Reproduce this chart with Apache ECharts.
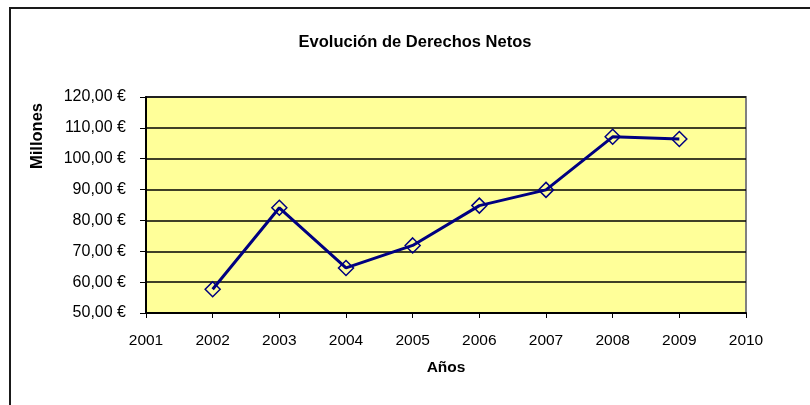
<!DOCTYPE html>
<html>
<head>
<meta charset="utf-8">
<script src="https://cdn.jsdelivr.net/npm/echarts@6/dist/echarts.min.js"></script>
<style>
html,body{margin:0;padding:0;background:#fff;}
#chart{width:810px;height:405px;}
</style>
</head>
<body>
<div id="chart"></div>
<script>
var years = [2002, 2003, 2004, 2005, 2006, 2007, 2008, 2009];
var derechosNetos = [57.7, 84.1, 64.6, 71.9, 84.8, 89.9, 107.1, 106.4];
var yMin = 50, yMax = 120, yStep = 10;
var xMin = 2001, xMax = 2010, xStep = 1;
var titleText = 'Evolución de Derechos Netos';
var xName = 'Años';
var yName = 'Millones';

var chart = echarts.init(document.getElementById('chart'), null, {renderer: 'canvas'});
var font = 'Arial, "Liberation Sans", sans-serif';
chart.setOption({
  backgroundColor: '#ffffff',
  animation: false,
  title: {
    text: titleText,
    left: 410, top: 29, textAlign: 'center',
    textStyle: {fontFamily: font, fontSize: 16.5, fontWeight: 'bold', color: '#000'}
  },
  graphic: [
    {type: 'polyline', shape: {points: [[10, 405], [10, 8], [810, 8]]},
     style: {stroke: '#1a1a1a', lineWidth: 2, fill: null}, silent: true},
    {type: 'text', x: 37, y: 136, rotation: Math.PI / 2,
     style: {text: yName, font: 'bold 16.5px Arial, "Liberation Sans", sans-serif', fill: '#000',
             align: 'center', verticalAlign: 'middle'},
     silent: true},
    {type: 'text', x: 446, y: 368,
     style: {text: xName, font: 'bold 15.5px Arial, "Liberation Sans", sans-serif', fill: '#000',
             align: 'center', verticalAlign: 'middle'},
     silent: true}
  ],
  grid: {
    left: 146, right: 64, top: 97, bottom: 92,
    show: true, backgroundColor: '#FFFF99', borderColor: '#808080', borderWidth: 2
  },
  xAxis: {
    type: 'value', min: xMin, max: xMax, interval: xStep,
    axisLine: {show: true, onZero: false, lineStyle: {color: '#000', width: 2}},
    axisTick: {show: true, length: 5, lineStyle: {color: '#000', width: 1}},
    splitLine: {show: false},
    axisLabel: {
      margin: 20, color: '#000', fontFamily: font, fontSize: 15.5,
      formatter: function (v) { return String(v); }
    }
  },
  yAxis: {
    type: 'value', min: yMin, max: yMax, interval: yStep,
    axisLine: {show: true, lineStyle: {color: '#000', width: 2}},
    axisTick: {show: true, length: 6, lineStyle: {color: '#000', width: 1}},
    splitLine: {show: true, lineStyle: {color: '#000', width: 1.5}},
    axisLabel: {
      margin: 20, color: '#000', fontFamily: font, fontSize: 16,
      formatter: function (v) { return v.toFixed(2).replace('.', ',') + ' €'; }
    }
  },
  series: [{
    type: 'line',
    data: years.map(function (y, i) { return [y, derechosNetos[i]]; }),
    symbol: 'diamond', symbolSize: 15,
    showAllSymbol: true,
    lineStyle: {color: '#000080', width: 3},
    itemStyle: {color: 'rgba(0,0,0,0)', borderColor: '#000080', borderWidth: 1.5},
    z: 3
  }]
});
</script>
</body>
</html>
